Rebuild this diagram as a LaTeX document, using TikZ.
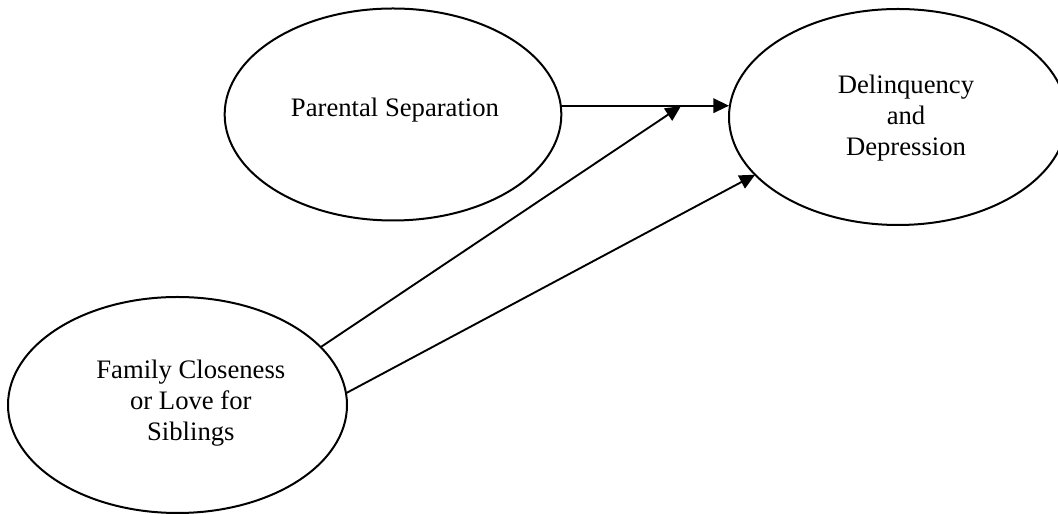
\documentclass[tikz,border=0pt]{standalone}
\usepackage{fontspec}
\setmainfont{Liberation Serif}
\usetikzlibrary{shapes.geometric,arrows.meta}
\begin{document}
\begin{tikzpicture}[x=0.45pt,y=-0.45pt,
  oval/.style={draw, ellipse, line width=0.9pt, inner sep=0pt, outer sep=0pt},
  txt/.style={font=\fontsize{12}{13.8}\selectfont, align=center, inner sep=0pt},
  arr/.style={-{Triangle[length=7pt,width=6.5pt]}, line width=0.85pt}]
\useasboundingbox (0,0) rectangle (1058,514);
\node[oval, minimum width=151.5pt, minimum height=95.4pt,
  label={[txt, xshift=0.9pt, yshift=2pt]center:Parental Separation}] (pa) at (393,114.5) {};
\node[oval, minimum width=152.1pt, minimum height=97.2pt,
  label={[txt, xshift=3.6pt, yshift=-0.5pt]center:{Delinquency\\and\\Depression}}] (dd) at (898,117) {};
\node[oval, minimum width=152.55pt, minimum height=97.2pt,
  label={[txt, xshift=6pt, yshift=0.8pt]center:{Family Closeness\\or Love for\\Siblings}}] (fam) at (177.5,405) {};
\coordinate (t2) at (681,106);
\draw[arr] (pa.3.2) -- (pa.3.2 -| dd.west);
\draw[arr] (fam.22.7) -- (t2);
\draw[arr] (fam.4.2) -- (dd.202.5);
\end{tikzpicture}
\end{document}
